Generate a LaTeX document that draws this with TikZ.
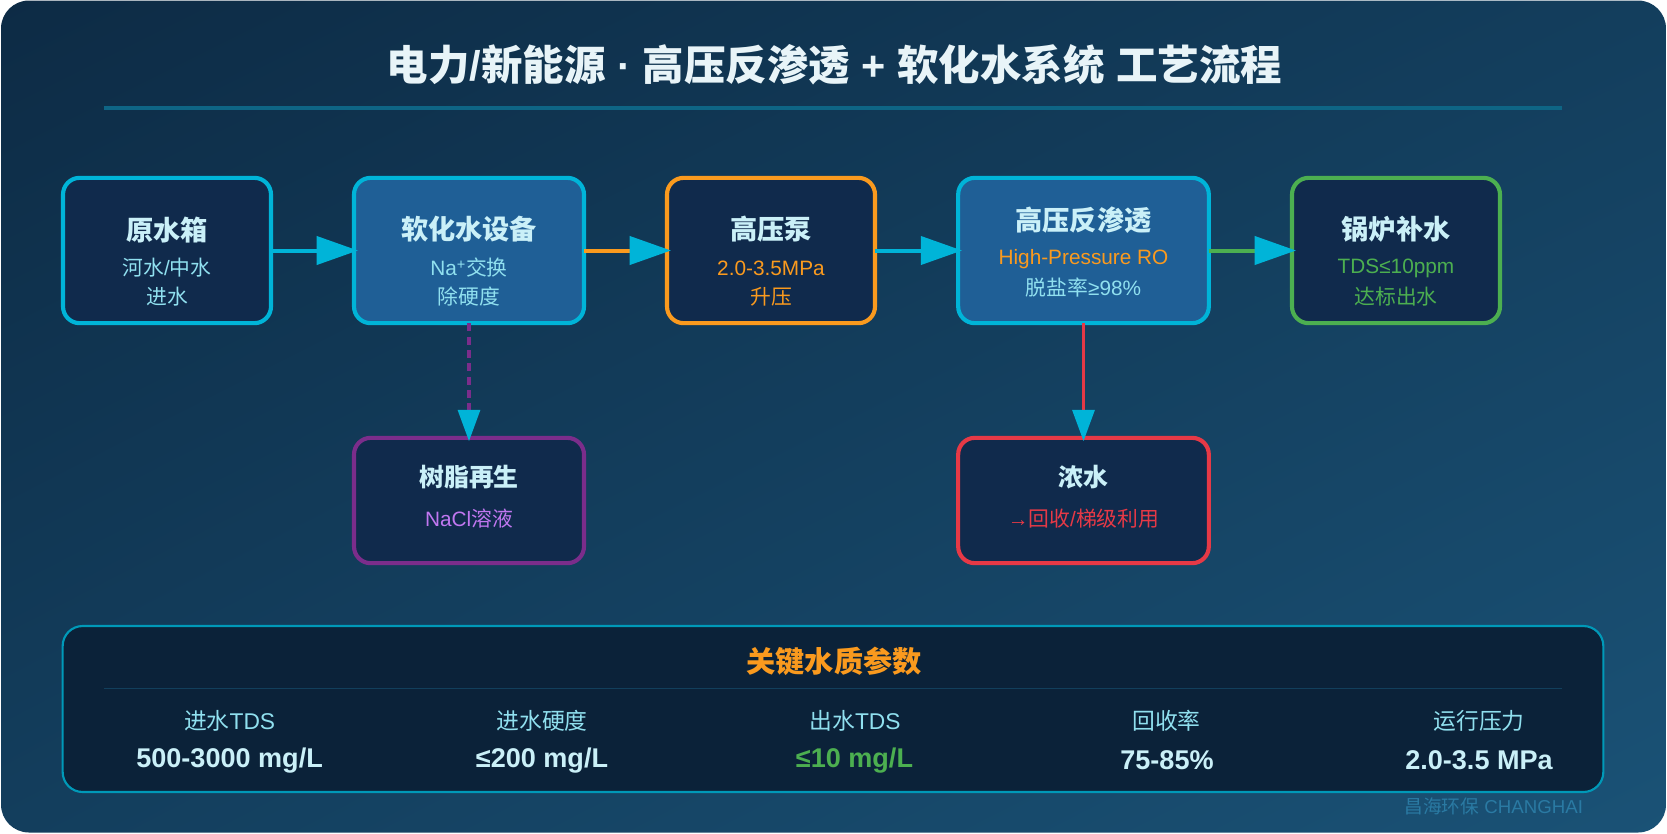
\documentclass[tikz,border=0pt]{standalone}
\usepackage{fontspec}
\usetikzlibrary{arrows.meta,shadings}
\setmainfont{Liberation Sans}
\newfontfamily\cj{Noto Sans CJK SC}
\newcommand{\Cj}[1]{{\cj #1}}
\definecolor{bgA}{HTML}{0D2B45}
\definecolor{bgB}{HTML}{1A5276}
\definecolor{bgM}{HTML}{133E5D}
\definecolor{boxfill}{HTML}{102A4C}
\definecolor{boxhi}{HTML}{1F5F96}
\definecolor{cyanc}{HTML}{00B4D8}
\definecolor{orangec}{HTML}{FA9A1E}
\definecolor{greenc}{HTML}{4CAF50}
\definecolor{purplec}{HTML}{7B2D8B}
\definecolor{redc}{HTML}{E63946}
\definecolor{titlec}{HTML}{E8F4F8}
\definecolor{headc}{HTML}{CAF0F8}
\definecolor{subc}{HTML}{90E0EF}
\definecolor{nacl}{HTML}{C077F0}
\definecolor{panelc}{HTML}{0B2239}
\definecolor{rulec}{HTML}{0E6585}
\definecolor{rule2}{HTML}{123F5C}
\definecolor{wmc}{HTML}{2A7AA3}
\tikzset{
  x=0.75pt,y=-0.75pt,
  procbox/.style={rectangle,rounded corners=12.5pt,line width=3.1pt,draw=cyanc,fill=boxfill,inner sep=0pt,outer sep=0pt},
  txt/.style={inner sep=0pt,outer sep=0pt,anchor=center,align=center},
  headtxt/.style={txt,text=headc,font=\bfseries\fontsize{20.4pt}{24pt}\selectfont\cj},
  lowhead/.style={txt,text=headc,font=\bfseries\fontsize{18.7pt}{22pt}\selectfont\cj},
  subtxt/.style={txt,text=subc,font=\fontsize{15.6pt}{19pt}\selectfont},
  lbltxt/.style={txt,text=subc,font=\fontsize{17.1pt}{20pt}\selectfont},
  valtxt/.style={txt,text=headc,font=\bfseries\fontsize{20.3pt}{25pt}\selectfont},
  flow/.style={line width=3pt,-{Triangle[length=31pt,width=21pt,color=cyanc]},shorten >=-3pt},
  dropflow/.style={line width=2.4pt,-{Triangle[length=23.5pt,width=16.5pt,color=cyanc]},shorten >=-2.5pt},
}
\begin{document}
\begin{tikzpicture}
\useasboundingbox (0,0) rectangle (1667,833);
\shade[rounded corners=21pt,lower left=bgM,upper left=bgA,upper right=bgM,lower right=bgB] (1,0.5) rectangle (1666,832.5);

\node[txt,text=titlec,font=\bfseries\fontsize{31.1pt}{36pt}\selectfont] (title) at (834.5,65) {\Cj{电力}/\Cj{新能源} · \Cj{高压反渗透} + \Cj{软化水系统} \Cj{工艺流程}};
\coordinate (ruleL) at (104,108);
\coordinate (ruleR) at (1562,108);
\draw[rulec,line width=2.7pt] (ruleL) -- (ruleR);

% boxes
\node[procbox,minimum width=156pt,minimum height=109pt] (b1) at (167,250.5) {};
\node[procbox,fill=boxhi,minimum width=172.5pt,minimum height=109pt] (b2) at (469,250.5) {};
\node[procbox,draw=orangec,minimum width=156pt,minimum height=109pt] (b3) at (771,250.5) {};
\node[procbox,fill=boxhi,minimum width=188pt,minimum height=109pt] (b4) at (1083.5,250.5) {};
\node[procbox,draw=greenc,minimum width=156pt,minimum height=109pt] (b5) at (1396,250.5) {};
\node[procbox,draw=purplec,minimum width=172.5pt,minimum height=94pt] (b6) at (469,500.5) {};
\node[procbox,draw=redc,minimum width=188pt,minimum height=94pt] (b7) at (1083.5,500.5) {};

% connectors
\draw[flow,cyanc] (b1.east) -- (b2.west);
\draw[flow,orangec] (b2.east) -- (b3.west);
\draw[flow,cyanc] (b3.east) -- (b4.west);
\draw[flow,greenc] (b4.east) -- (b5.west);
\draw[dropflow,purplec,dash pattern=on 6pt off 4pt] (b2.south) -- (b6.north);
\draw[dropflow,redc] (b4.south) -- (b7.north);

% box texts
\node[headtxt] (t1) at (167,229.6) {原水箱};
\node[subtxt] (s1a) at (167,268) {\Cj{河水}/\Cj{中水}};
\node[subtxt] (s1b) at (167,296.6) {\Cj{进水}};
\node[headtxt] (t2) at (469,229.6) {软化水设备};
\node[subtxt] (s2a) at (469,268) {Na\textsuperscript{+}\Cj{交换}};
\node[subtxt] (s2b) at (469,296.6) {\Cj{除硬度}};
\node[headtxt] (t3) at (771,229.6) {高压泵};
\node[subtxt,text=orangec] (s3a) at (771,268) {2.0-3.5MPa};
\node[subtxt,text=orangec] (s3b) at (771,296.6) {\Cj{升压}};
\node[headtxt] (t4) at (1083.5,220) {高压反渗透};
\node[subtxt,text=orangec] (s4a) at (1083.5,259.5) {High-Pressure RO};
\node[subtxt] (s4b) at (1083.5,288) {\Cj{脱盐率}≥98\%};
\node[headtxt] (t5) at (1396,229.6) {锅炉补水};
\node[subtxt,text=greenc] (s5a) at (1396,268) {TDS≤10ppm};
\node[subtxt,text=greenc] (s5b) at (1396,296.6) {\Cj{达标出水}};
\node[lowhead] (t6) at (469,477) {树脂再生};
\node[subtxt,text=nacl] (s6) at (469,519) {NaCl\Cj{溶液}};
\node[lowhead] (t7) at (1083.5,477) {浓水};
\node[subtxt,text=redc] (s7) at (1083.5,519) {→\Cj{回收}/\Cj{梯级利用}};

% panel
\node[procbox,rounded corners=15pt,line width=1.6pt,draw=cyanc!85!black,fill=panelc,minimum width=1155.5pt,minimum height=124.5pt] (panel) at (833,709) {};
\node[txt,text=orangec,font=\bfseries\fontsize{21.9pt}{26pt}\selectfont\cj] (ptitle) at (834,661) {关键水质参数};
\coordinate (r2L) at (104,688.5);
\coordinate (r2R) at (1562,688.5);
\draw[rule2,line width=1.1pt] (r2L) -- (r2R);
\node[lbltxt] (p1) at (229.6,721) {\Cj{进水}TDS};
\node[valtxt] (v1) at (229.6,760.5) {500-3000 mg/L};
\node[lbltxt] (p2) at (542,721) {\Cj{进水硬度}};
\node[valtxt] (v2) at (542,760.5) {≤200 mg/L};
\node[lbltxt] (p3) at (855,721) {\Cj{出水}TDS};
\node[valtxt,text=greenc] (v3) at (854.5,760.5) {≤10 mg/L};
\node[lbltxt] (p4) at (1166.5,721) {\Cj{回收率}};
\node[valtxt] (v4) at (1167,760.5) {75-85\%};
\node[lbltxt] (p5) at (1479,721) {\Cj{运行压力}};
\node[valtxt] (v5) at (1479,760.5) {2.0-3.5 MPa};
\node[txt,anchor=east,text=wmc,font=\fontsize{14pt}{18pt}\selectfont] (wm) at (1583,806) {\Cj{昌海环保} CHANGHAI};
\end{tikzpicture}
\end{document}
